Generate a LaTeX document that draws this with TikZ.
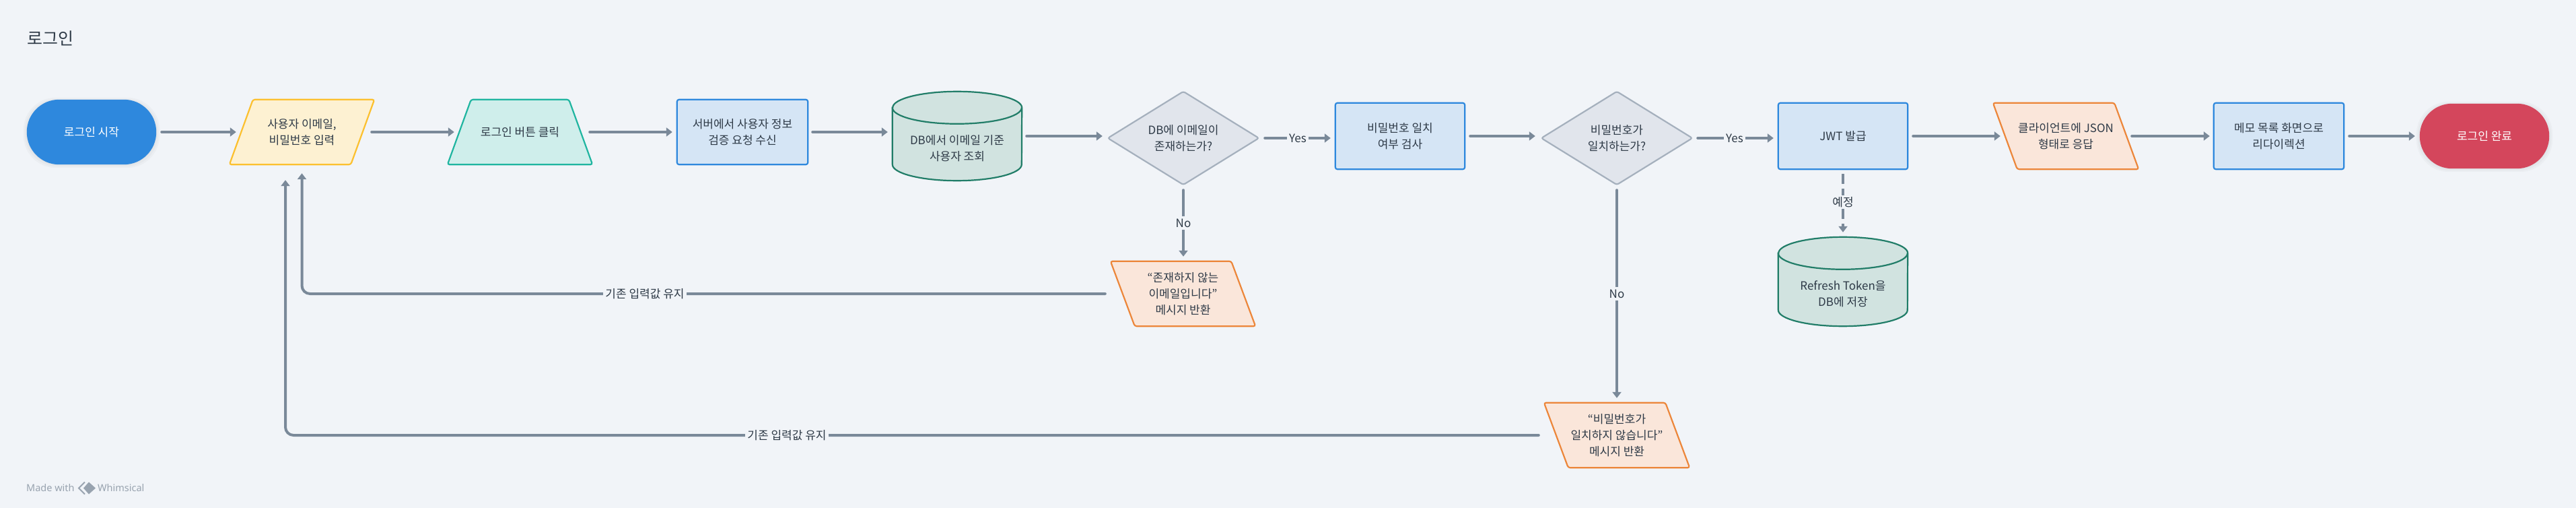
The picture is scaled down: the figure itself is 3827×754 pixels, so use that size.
\documentclass[tikz,border=0pt]{standalone}
\usepackage{fontspec}
\setmainfont{Noto Sans CJK KR}
\newfontfamily\markfont{Noto Sans}
\usetikzlibrary{arrows.meta,backgrounds,calc}
\definecolor{bgc}{HTML}{F1F4F8}
\definecolor{ink}{HTML}{2E3A47}
\definecolor{conn}{HTML}{7A8999}
\definecolor{blueS}{HTML}{2E88DD}
\definecolor{blueF}{HTML}{D5E5F5}
\definecolor{redF}{HTML}{D4465C}
\definecolor{yelS}{HTML}{FCC02E}
\definecolor{yelF}{HTML}{FDF1D2}
\definecolor{tealS}{HTML}{1FB5A0}
\definecolor{tealF}{HTML}{CFEEEB}
\definecolor{cylS}{HTML}{217D68}
\definecolor{cylF}{HTML}{D1E3E0}
\definecolor{diaS}{HTML}{A5B0BD}
\definecolor{diaF}{HTML}{E1E5EC}
\definecolor{oraS}{HTML}{EC863A}
\definecolor{oraF}{HTML}{FAE6DA}
\definecolor{markc}{HTML}{98A3AF}
\tikzset{
  txt/.style={align=center,inner sep=0pt,text=ink,font=\fontsize{17}{24}\selectfont},
  slot/.style n args={2}{txt,minimum width=#1,minimum height=#2},
  pill/.style={txt,text=white,minimum width=192pt,minimum height=96pt,rounded corners=48pt},
  edge/.style={line width=2.2pt,rounded corners=3pt},
  link/.style={draw=conn,line width=4pt,line cap=round,-{Triangle[length=9pt,width=13pt]}},
  note/.style={txt,fill=bgc,inner xsep=3pt,inner ysep=4pt},
  dashlink/.style={draw=conn,line width=4pt,dash pattern=on 15pt off 7pt},
}
\newcommand{\softshadow}[1]{%
  \foreach \s in {1,3,5}{\fill[black,opacity=0.025,rounded corners=48pt]
    ([xshift=-\s pt,yshift=-\s pt]#1.south west) rectangle ([xshift=\s pt,yshift=\s pt-2pt]#1.north east);}}
\newcommand{\para}[3]{% leaning right: top edge shifted right
  \draw[edge,#3] ([xshift=#2]#1.north west) -- (#1.north east)
   -- ([xshift=-#2]#1.south east) -- (#1.south west) -- cycle;}
\newcommand{\backpara}[3]{% leaning left: bottom edge shifted right
  \draw[edge,#3] (#1.north west) -- ([xshift=-#2]#1.north east)
   -- (#1.south east) -- ([xshift=#2]#1.south west) -- cycle;}
\newcommand{\boxshape}[2]{\draw[edge,#2] (#1.north west) rectangle (#1.south east);}
\newcommand{\diam}[1]{\draw[edge,draw=diaS,fill=diaF] (#1.north) -- (#1.east) -- (#1.south) -- (#1.west) -- cycle;}
\newcommand{\cyl}[1]{%
  \draw[line width=2.2pt,draw=cylS,fill=cylF] ([yshift=-24pt]#1.north west) -- ([yshift=24pt]#1.south west)
    arc[start angle=180,end angle=360,x radius=96pt,y radius=24pt]
    -- ([yshift=-24pt]#1.north east)
    arc[start angle=0,end angle=180,x radius=96pt,y radius=24pt] -- cycle;
  \draw[line width=2.2pt,draw=cylS] ([yshift=-24pt]#1.north west)
    arc[start angle=180,end angle=360,x radius=96pt,y radius=24pt];}
\begin{document}
\begin{tikzpicture}[x=1pt,y=-1pt]
\useasboundingbox (0,0) rectangle (3827,754);
\begin{scope}[on background layer]
\fill[bgc] (0,0) rectangle (3827,754);
\end{scope}

\node[txt,anchor=west,font=\fontsize{25}{30}\selectfont] (title) at (40,57) {로그인};

\node[pill] (a) at (136,196) {로그인 시작};
\node[slot={215pt}{96pt}] (b) at (448.5,196) {사용자 이메일,\\비밀번호 입력};
\node[slot={215pt}{96pt}] (t) at (772.5,196) {로그인 버튼 클릭};
\node[slot={194pt}{96pt}] (p1) at (1103,196) {서버에서 사용자 정보\\검증 요청 수신};
\node[slot={192pt}{132pt}] (c1) at (1422,202) {};
\node[txt] (c1t) at (1422,220) {DB에서 이메일 기준\\사용자 조회};
\node[slot={224pt}{138pt}] (d1) at (1758,205) {DB에 이메일이\\존재하는가?};
\node[slot={192pt}{98pt}] (p2) at (2080,202) {비밀번호 일치\\여부 검사};
\node[slot={224pt}{138pt}] (d2) at (2402,205) {비밀번호가\\일치하는가?};
\node[slot={192pt}{98pt}] (jwt) at (2738,202) {JWT 발급};
\node[slot={192pt}{132pt}] (c2) at (2738,418) {};
\node[txt] (c2t) at (2738,436) {Refresh Token을\\DB에 저장};
\node[slot={216pt}{98pt}] (r) at (3069,202) {클라이언트에 JSON\\형태로 응답};
\node[slot={193pt}{98pt}] (p3) at (3385.5,202) {메모 목록 화면으로\\리다이렉션};
\node[pill] (z) at (3691,202) {로그인 완료};
\node[slot={215pt}{96pt}] (m1) at (1757.5,436) {“존재하지 않는\\이메일입니다”\\메시지 반환};
\node[slot={216pt}{96pt}] (m2) at (2402,646) {“비밀번호가\\일치하지 않습니다”\\메시지 반환};

\begin{scope}[on background layer]
\softshadow{a}
\softshadow{z}
\fill[blueS,rounded corners=48pt] (a.south west) rectangle (a.north east);
\fill[redF,rounded corners=48pt] (z.south west) rectangle (z.north east);
\para{b}{35pt}{draw=yelS,fill=yelF}
\draw[edge,draw=tealS,fill=tealF] ([xshift=35pt]t.north west) -- ([xshift=-35pt]t.north east) -- (t.south east) -- (t.south west) -- cycle;
\boxshape{p1}{draw=blueS,fill=blueF}
\cyl{c1}
\diam{d1}
\boxshape{p2}{draw=blueS,fill=blueF}
\diam{d2}
\boxshape{jwt}{draw=blueS,fill=blueF}
\cyl{c2}
\backpara{r}{36pt}{draw=oraS,fill=oraF}
\boxshape{p3}{draw=blueS,fill=blueF}
\backpara{m1}{36pt}{draw=oraS,fill=oraF}
\backpara{m2}{36pt}{draw=oraS,fill=oraF}
\end{scope}

% connectors
\draw[link] ([xshift=8pt]a.east) -- ([xshift=10pt]b.west);
\draw[link] ([xshift=-4pt]b.east) -- ([xshift=10pt]t.west);
\draw[link] ([xshift=-4pt]t.east) -- ([xshift=-7pt]p1.west);
\draw[link] ([xshift=7pt]p1.east) -- ([xshift=-7pt]c1.west |- p1.east);
\draw[link] ([xshift=7pt]c1.east) -- ([xshift=-8pt]d1.west |- c1.east);
\draw[link] ([xshift=9pt]d1.east) -- ([xshift=-7pt]p2.west |- d1.east);
\draw[link] ([xshift=8pt]p2.east) -- ([xshift=-9pt]d2.west |- p2.east);
\draw[link] ([xshift=8pt]d2.east) -- ([xshift=-7pt]jwt.west |- d2.east);
\draw[link] ([xshift=8pt]jwt.east) -- ([xshift=11pt]r.west);
\draw[link] ([xshift=-10pt]r.east) -- ([xshift=-6pt]p3.west);
\draw[link] ([xshift=8pt]p3.east) -- ([xshift=-7pt]z.west);
\draw[link] ([yshift=-8pt]d1.south) -- ([yshift=7pt]m1.north -| d1.south);
\draw[link] ([yshift=-8pt]d2.south) -- ([yshift=7pt]m2.north);
\draw[link,rounded corners=12pt] ([xshift=-8pt]m1.west) -| ([yshift=-13pt]b.south);
\draw[link,rounded corners=12pt] ([xshift=-8pt]m2.west) -| ([xshift=-24.5pt,yshift=-23pt]b.south);

\node[note,inner ysep=6pt] (yes1) at (1928,205) {Yes};
\node[note,inner ysep=6pt] (yes2) at (2577,205) {Yes};
\node[note] (no1) at (1758,331) {No};
\node[note] (no2) at (2402,436) {No};
\node[note] (keep1) at (958,436) {기존 입력값 유지};
\node[note] (keep2) at (1169,646) {기존 입력값 유지};
\node[note,inner ysep=2pt] (plan) at (2738,300) {예정};
\draw[dashlink] ([yshift=-7pt]jwt.south) -- (plan.north);
\draw[dashlink,-{Triangle[length=9pt,width=13pt]}] (plan.south) -- ([yshift=7pt]c2.north);

% footer mark
\node[anchor=west,inner sep=0pt,text=markc,font=\markfont\fontsize{14.5}{16}\selectfont\bfseries] (made) at (39,724) {Made with};
\node[anchor=west,inner sep=0pt,text=markc,font=\markfont\fontsize{14.5}{16}\selectfont\bfseries] (whim) at (145,724) {Whimsical};
\coordinate (logo) at (132,724.5);
\fill[markc] ([xshift=-8pt]logo) -- ([yshift=9pt]logo) -- ([xshift=10pt]logo) -- ([yshift=-9pt]logo) -- cycle;
\draw[markc,line width=1.8pt] ([xshift=-6pt,yshift=9pt]logo) -- ([xshift=-15pt]logo) -- ([xshift=-6pt,yshift=-9pt]logo);
\end{tikzpicture}
\end{document}
